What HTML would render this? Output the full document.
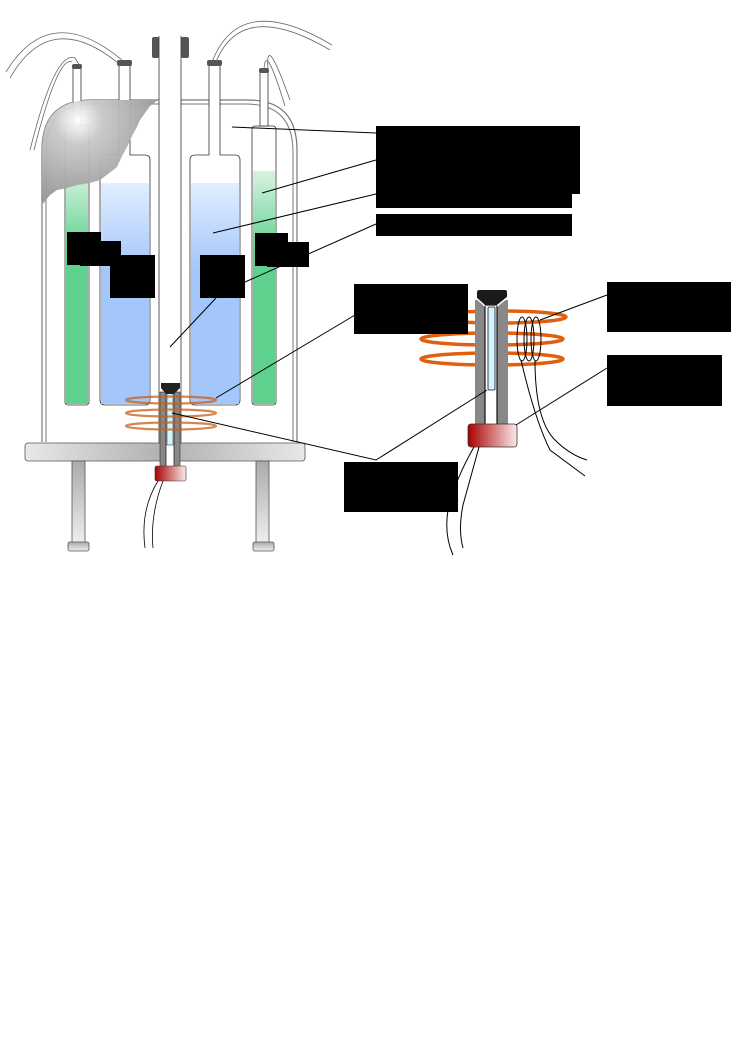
<!DOCTYPE html>
<html><head><meta charset="utf-8"><style>body{margin:0;background:#fff}svg{display:block}</style></head><body>
<svg width="744" height="1052" viewBox="0 0 744 1052" xmlns="http://www.w3.org/2000/svg">
<defs>
<linearGradient id="gr" x1="0" y1="0" x2="0" y2="1"><stop offset="0" stop-color="#d8f3e2"/><stop offset="0.35" stop-color="#5fd18e"/><stop offset="1" stop-color="#5fd18e"/></linearGradient>
<linearGradient id="bl" x1="0" y1="0" x2="0" y2="1"><stop offset="0" stop-color="#e2eeff"/><stop offset="0.4" stop-color="#a3c6fb"/><stop offset="1" stop-color="#a3c6fb"/></linearGradient>
<linearGradient id="pl" x1="0" y1="0" x2="1" y2="0"><stop offset="0" stop-color="#e8e8e8"/><stop offset="0.5" stop-color="#b0b0b0"/><stop offset="1" stop-color="#e8e8e8"/></linearGradient>
<linearGradient id="lg" x1="0" y1="0" x2="0" y2="1"><stop offset="0" stop-color="#aaa"/><stop offset="1" stop-color="#eee"/></linearGradient>
<linearGradient id="rd" x1="0" y1="0" x2="1" y2="0"><stop offset="0" stop-color="#a00"/><stop offset="1" stop-color="#fbeaea"/></linearGradient>
<radialGradient id="sh" cx="78" cy="120" r="80" gradientUnits="userSpaceOnUse"><stop offset="0" stop-color="#fff"/><stop offset="0.3" stop-color="#c8c8c8"/><stop offset="1" stop-color="#9a9a9a"/></radialGradient>
</defs>
<g fill="none" stroke="#777">
<path d="M42 442 V150 Q42 100 92 100 H248 Q297 100 297 150 V442" stroke-width="1.2"/>
<path d="M46 442 V152 Q46 104 94 104 H246 Q293 104 293 152 V442" stroke-width="1"/>
</g>
<!-- tubes -->
<g stroke="#333" stroke-width="0.8">
<rect x="65" y="125" width="24" height="280" rx="3" fill="#fff"/>
<rect x="66" y="170" width="22" height="234" fill="url(#gr)" stroke="none"/>
<rect x="252" y="126" width="24" height="279" rx="3" fill="#fff"/>
<rect x="253" y="171" width="22" height="233" fill="url(#gr)" stroke="none"/>
<rect x="73" y="68" width="8" height="57" fill="#fff"/>
<rect x="260" y="72" width="8" height="54" fill="#fff"/>
<path d="M119 64 V155 H104 Q100 155 100 160 V400 Q100 405 105 405 H145 Q150 405 150 400 V160 Q150 155 145 155 H130 V64" fill="#fff"/>
<path d="M209 64 V155 H195 Q190 155 190 160 V400 Q190 405 195 405 H235 Q240 405 240 400 V160 Q240 155 235 155 H220 V64" fill="#fff"/>
<rect x="101" y="183" width="48" height="221" fill="url(#bl)" stroke="none"/>
<rect x="191" y="183" width="48" height="221" fill="url(#bl)" stroke="none"/>
</g>
<path d="M42 195 V150 Q42 100 92 100 H158 L150 106 L145 113 L140 120 L137 127 L132 136 L127 147 L122 156 L117 167 L108 174 L100 180 L90 183 L77 185 L67 188 L57 190 L50 195 L43 204Z" fill="url(#sh)" opacity="0.95"/>
<g fill="#555"><rect x="72" y="64" width="10" height="5" rx="2"/><rect x="117" y="60" width="15" height="6" rx="2"/><rect x="207" y="60" width="15" height="6" rx="2"/><rect x="259" y="68" width="10" height="5" rx="2"/>
<rect x="152" y="37" width="7" height="21" rx="2"/><rect x="181" y="37" width="8" height="21" rx="2"/></g>
<!-- central tube -->
<rect x="159" y="36" width="22" height="410" fill="#fff" stroke="none"/>
<path d="M159 36 V446 M181 36 V446" stroke="#333" stroke-width="0.8"/>
<!-- hoses -->
<g fill="none" stroke="#666" stroke-width="0.8">
<path d="M6 72 Q50 0 122 60"/><path d="M10 78 Q50 8 118 63"/>
<path d="M30 150 Q55 50 75 58 L80 66"/><path d="M34 150 Q58 55 72 62"/>
<path d="M212 62 Q240 -10 332 45"/><path d="M216 62 Q242 -2 330 50"/>
<path d="M268 70 Q265 30 290 100"/><path d="M264 70 Q265 40 285 106"/>
</g>
<!-- base -->
<rect x="25" y="443" width="280" height="18" rx="3" fill="url(#pl)" stroke="#555" stroke-width="0.8"/>
<g stroke="#555" stroke-width="0.8" fill="url(#lg)"><rect x="72" y="461" width="13" height="82"/><rect x="256" y="461" width="13" height="82"/>
<rect x="68" y="542" width="21" height="9" rx="2"/><rect x="253" y="542" width="21" height="9" rx="2"/></g>
<!-- small probe -->
<rect x="160" y="392" width="20" height="75" fill="#888" stroke="#333" stroke-width="0.6"/>
<rect x="166" y="393" width="8" height="74" fill="#fff" stroke="#222" stroke-width="0.8"/>
<rect x="167" y="393" width="6" height="52" fill="#d3f4ff" stroke="#222" stroke-width="0.5"/>
<path d="M161 383 H180 V388 L174 394 H166 L161 388Z" fill="#222"/>
<rect x="155" y="466" width="31" height="15" rx="2" fill="url(#rd)" stroke="#333" stroke-width="0.6"/>
<g fill="none" stroke="#c8601a" stroke-width="2.2" opacity="0.75"><ellipse cx="171" cy="400" rx="45" ry="3.5"/><ellipse cx="171" cy="413" rx="45" ry="3.5"/><ellipse cx="171" cy="426" rx="45" ry="3.5"/></g>
<path d="M158 481 Q140 510 145 548 M163 481 Q150 515 153 548" fill="none" stroke="#000" stroke-width="0.8"/>
<!-- big probe -->
<g fill="none" stroke="#e06010" stroke-width="3.5"><ellipse cx="500" cy="317" rx="66" ry="6"/><ellipse cx="492" cy="339" rx="71" ry="6"/><ellipse cx="492" cy="359" rx="71" ry="6"/></g>
<rect x="475" y="300" width="33" height="125" fill="#888"/>
<rect x="485" y="305" width="12" height="120" fill="#fff" stroke="#111" stroke-width="1.2"/>
<rect x="488" y="307" width="7" height="83" rx="1" fill="#d3f4ff" stroke="#111" stroke-width="0.8"/>
<path d="M477 292 Q477 290 480 290 H505 Q507 290 507 292 V298 L499 305 H485 L477 298Z" fill="#1a1a1a"/>
<path d="M475 297 L485 306 M508 297 L497 306" stroke="#fff" stroke-width="1.5"/>
<rect x="468" y="424" width="49" height="23" rx="3" fill="url(#rd)" stroke="#333" stroke-width="0.8"/>
<g fill="none" stroke="#000" stroke-width="1"><ellipse cx="522" cy="339" rx="5" ry="22"/><ellipse cx="529" cy="339" rx="5" ry="22"/><ellipse cx="536" cy="339" rx="5" ry="22"/>
<path d="M521 360 Q535 420 550 450 L585 476"/><path d="M535 360 Q535 420 555 440 Q570 455 587 460"/>
<path d="M474 447 Q455 480 448 510 Q444 535 453 555"/><path d="M479 447 Q470 480 463 505 Q458 530 463 548"/></g>
<!-- leader lines -->
<g stroke="#000" stroke-width="1" fill="none">
<path d="M232 127 L376 133"/><path d="M262 193 L376 160"/><path d="M213 233 L376 194"/><path d="M245 282 L376 224"/>
<path d="M170 347 L216 298"/><path d="M216 398 L355 315"/><path d="M172 413 L376 460 L487 390"/>
<path d="M540 320 L607 295"/><path d="M516 425 L607 368"/>
</g>
<!-- label boxes -->
<g fill="#000">
<rect x="376" y="126" width="204" height="68"/><rect x="376" y="150" width="196" height="58"/><rect x="376" y="214" width="196" height="22"/>
<rect x="67" y="232" width="34" height="33"/><rect x="80" y="241" width="41" height="25"/>
<rect x="110" y="255" width="45" height="43"/><rect x="200" y="255" width="45" height="43"/>
<rect x="255" y="233" width="33" height="33"/><rect x="267" y="242" width="42" height="25"/>
<rect x="354" y="284" width="114" height="50"/><rect x="607" y="282" width="124" height="50"/>
<rect x="607" y="355" width="115" height="51"/><rect x="344" y="462" width="114" height="50"/>
</g>
</svg>
</body></html>
